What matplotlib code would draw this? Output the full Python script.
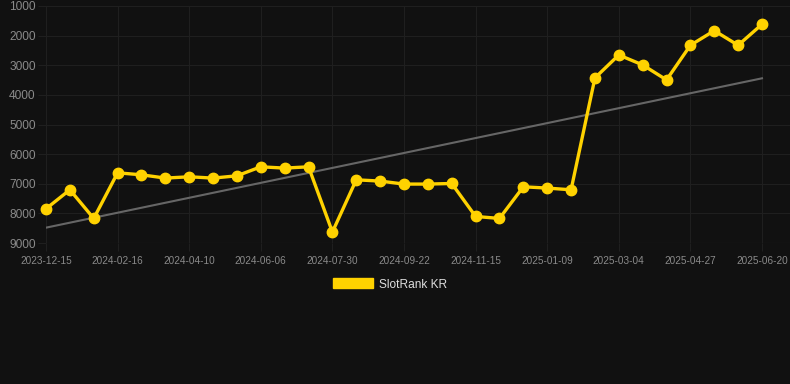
import numpy as np
import matplotlib
matplotlib.use("Agg")
import matplotlib.pyplot as plt
from matplotlib.patches import Patch

plt.rcParams['font.family'] = ['Liberation Sans', 'DejaVu Sans']

# ---- data ----
tick_labels = ["2023-12-15", "2024-02-16", "2024-04-10", "2024-06-06", "2024-07-30",
               "2024-09-22", "2024-11-15", "2025-01-09", "2025-03-04", "2025-04-27",
               "2025-06-20"]
rank_values = [7845, 7204, 8171, 6631, 6698, 6809, 6765, 6809, 6732, 6428,
               6472, 6428, 8630, 6867, 6910, 7011, 7011, 6991, 8104, 8171,
               7103, 7146, 7204, 3428, 2652, 2989, 3495, 2325, 1833, 2325, 1617]
series_name = "SlotRank KR"
y_ticks = [1000, 2000, 3000, 4000, 5000, 6000, 7000, 8000, 9000]

# ---- style ----
BG = "#111111"
YELLOW = "#FFD200"
GRID = "#1f1f1f"
TREND = "#666666"
TICK_COL = "#8a8a8a"

W, H = 790, 384
fig = plt.figure(figsize=(W / 100, H / 100), dpi=100, facecolor=BG)
left, right, top, bottom = 46, 790, 6, 243
ax = fig.add_axes([left / W, 1 - bottom / H, (right - left) / W, (bottom - top) / H])
ax.set_facecolor(BG)

x = np.arange(len(rank_values))
# trend line (linear regression)
coef = np.polyfit(x, rank_values, 1)
ax.plot([x[0], x[-1]], np.polyval(coef, [x[0], x[-1]]), color=TREND, lw=1.5, zorder=2)

ax.plot(x, rank_values, color=YELLOW, lw=2.4, marker='o', ms=7.5,
        markerfacecolor=YELLOW, markeredgecolor=YELLOW, zorder=3, clip_on=False)

ax.set_ylim(9000, 1000)
step = (762 - 46) / 30
ax.set_xlim(0, (right - left) / step)
ax.set_yticks(y_ticks)
ax.set_yticklabels([str(v) for v in y_ticks])
tick_pos = x[::3]
ax.set_xticks(tick_pos)
ax.set_xticklabels(tick_labels)

ax.grid(True, color=GRID, lw=0.8)
ax.set_axisbelow(True)
for s in ax.spines.values():
    s.set_visible(False)
ax.tick_params(axis='y', length=6, width=0.8, color=GRID, labelcolor=TICK_COL,
               labelsize=8.6, pad=1.5)
ax.tick_params(axis='x', length=6, width=0.8, color=GRID, labelcolor=TICK_COL,
               labelsize=7.2, pad=3)
ax.axhline(9000, color="#2a2a2a", lw=0.8, zorder=1)

handle = Patch(facecolor=YELLOW, edgecolor=YELLOW)
leg = fig.legend([handle], [series_name], loc='center',
                 bbox_to_anchor=(0.5 - 5 / W, 1 - 284.5 / H), frameon=False,
                 fontsize=8.6, handlelength=3.3, handleheight=0.9,
                 handletextpad=0.5, labelcolor="#dddddd")

fig.savefig("out.png", dpi=100, facecolor=BG)
